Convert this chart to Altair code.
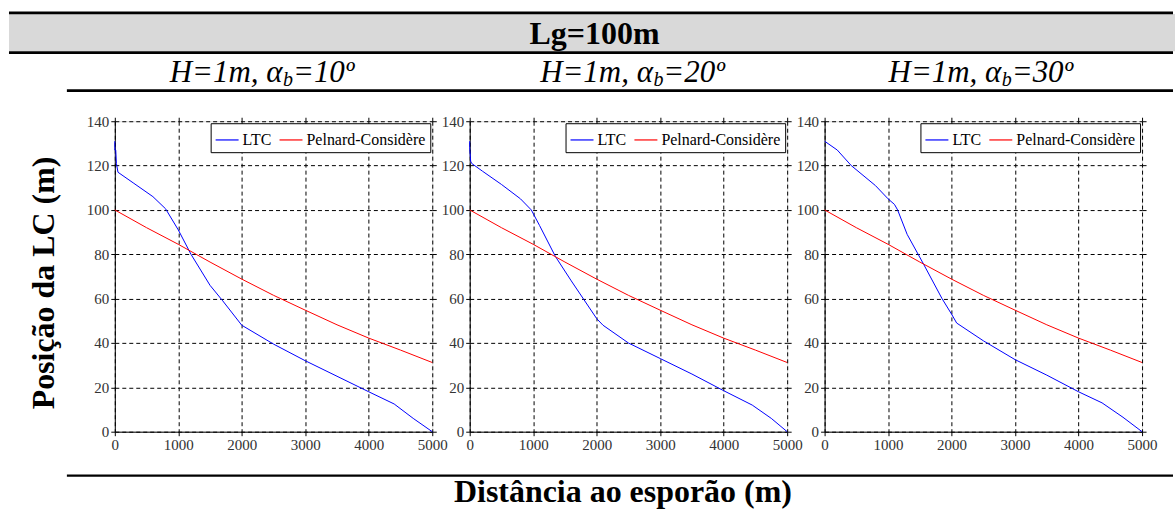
import altair as alt
import pandas as pd

# ---------------- data ----------------
SERIES = ["LTC", "Pelnard-Considère"]
COLORS = ["#0000ff", "#ff0000"]

# Pelnard-Considère solution (same in the three panels)
PC_DIST = [0, 500, 1000, 1500, 2000, 2500, 3000, 3500, 4000, 4500, 5000]
PC_POS = [100, 92, 84.5, 76.5, 68.8, 61.5, 54.8, 48.2, 42.2, 36.8, 31.2]

# LTC, alpha_b = 10
DIST_10 = [0, 0, 15, 25, 50, 300, 600, 800, 1000, 1200, 1500, 1700, 2000, 2500, 3000, 3500, 4000, 4400, 4700, 5000]
LTC_10 = [131, 127, 127, 121, 117, 112, 106, 100.5, 91, 80, 66, 59, 48, 39.5, 32, 25, 18, 12.5, 6, 0]

# LTC, alpha_b = 20
DIST_20 = [0, 0, 15, 30, 200, 500, 800, 970, 1100, 1350, 1600, 1800, 2000, 2100, 2500, 3000, 3500, 4000, 4450, 4750, 5000]
LTC_20 = [131, 128, 122, 121, 117.5, 111.5, 105, 100, 93, 79, 68, 59.5, 51, 48, 40, 33, 26, 18.5, 12, 6, 0]

# LTC, alpha_b = 30
DIST_30 = [0, 200, 420, 800, 1000, 1100, 1150, 1300, 1560, 1850, 2000, 2080, 2500, 3000, 3500, 4000, 4370, 4700, 5000]
LTC_30 = [131, 127, 120, 111, 105, 102.5, 100, 89, 75.5, 60, 53, 49, 41, 32.5, 25.5, 18, 13, 6.5, 0]

X_TICKS = [0, 1000, 2000, 3000, 4000, 5000]
Y_TICKS = [0, 20, 40, 60, 80, 100, 120, 140]

HEADER = "Lg=100m"
SUB_MAIN = "H=1m, α"
SUB_INDEX = "b"
SUB_TAIL = ["=10º", "=20º", "=30º"]
Y_TITLE = "Posição da LC (m)"
X_TITLE = "Distância ao esporão (m)"

# ---------------- layout ----------------
W, H = 318, 311          # plot area of each panel
OX, OY = 114, 120        # canvas position of panel 1 plot area
FONT = "Liberation Serif"


def cx(x):
    return x - OX


def cy(y):
    return y - OY


one = pd.DataFrame({"k": [0]})


def panel_df(dist, ltc):
    rows = []
    for i, (d, v) in enumerate(zip(dist, ltc)):
        rows.append({"dist": d, "pos": v, "series": SERIES[0], "i": i})
    for i, (d, v) in enumerate(zip(PC_DIST, PC_POS)):
        rows.append({"dist": d, "pos": v, "series": SERIES[1], "i": i})
    return pd.DataFrame(rows)


def panel(dist, ltc, extra=None):
    df = panel_df(dist, ltc)
    xs = alt.Scale(domain=[0, 5000], nice=False)
    ys = alt.Scale(domain=[0, 140], nice=False)
    lines = alt.Chart(df).mark_line(strokeWidth=1).encode(
        x=alt.X("dist:Q", scale=xs, axis=alt.Axis(
            values=X_TICKS, title=None, grid=True, gridColor="black", gridDash=[4, 3],
            gridOpacity=1, gridWidth=1, domainColor="black", tickColor="black",
            tickSize=4, labelFont=FONT, labelFontSize=15, labelColor="#333333",
            labelFlush=False, labelPadding=2, format="d")),
        y=alt.Y("pos:Q", scale=ys, axis=alt.Axis(
            values=Y_TICKS, title=None, grid=True, gridColor="black", gridDash=[4, 3],
            gridOpacity=1, gridWidth=1, domainColor="black", tickColor="black",
            tickSize=4, labelFont=FONT, labelFontSize=15, labelColor="#333333",
            labelFlush=False, labelPadding=2, format="d")),
        color=alt.Color("series:N", scale=alt.Scale(domain=SERIES, range=COLORS),
                        legend=alt.Legend(
                            title=None, orient="top-right", direction="horizontal",
                            offset=2, strokeColor="black", fillColor="white", padding=4,
                            symbolType="stroke", symbolSize=529, symbolStrokeWidth=1.2,
                            labelFont=FONT, labelFontSize=16, labelColor="black",
                            labelOffset=3, columnPadding=5, labelLimit=300,
                            cornerRadius=0)),
        order=alt.Order("i:Q"),
    )
    mirror = alt.Chart(df).mark_line(strokeOpacity=0).encode(
        x=alt.X("dist:Q", scale=xs, axis=alt.Axis(
            orient="top", values=X_TICKS, labels=False, grid=False, domain=False,
            tickColor="black", tickSize=4, title=None)),
        y=alt.Y("pos:Q", scale=ys, axis=alt.Axis(
            orient="right", values=Y_TICKS, labels=False, grid=False, domain=False,
            tickColor="black", tickSize=4, title=None)),
        detail="series:N",
        order=alt.Order("i:Q"),
    )
    layers = (extra or []) + [lines, mirror]
    return alt.layer(*layers).resolve_axis(x="independent", y="independent").properties(
        width=W, height=H)


def rule(x1, x2, y, sw):
    return alt.Chart(one).mark_rule(color="black", strokeWidth=sw).encode(
        x=alt.value(cx(x1)), x2=alt.value(cx(x2)), y=alt.value(cy(y)))


def text(t, x, y, size, weight="normal", style="normal", align="center", angle=0):
    kw = dict(text=t, font=FONT, fontSize=size, fontWeight=weight, fontStyle=style,
              align=align, baseline="alphabetic", color="black")
    if angle:
        kw["angle"] = angle
    return alt.Chart(one).mark_text(**kw).encode(x=alt.value(cx(x)), y=alt.value(cy(y)))


deco = [
    # invisible anchor covering the whole canvas
    alt.Chart(one).mark_rect(color="white", opacity=0).encode(
        x=alt.value(cx(0)), x2=alt.value(cx(1176)), y=alt.value(cy(0)), y2=alt.value(cy(511))),
    # grey header band
    alt.Chart(one).mark_rect(color="#d9d9d9").encode(
        x=alt.value(cx(8)), x2=alt.value(cx(1176)), y=alt.value(cy(12.7)), y2=alt.value(cy(50))),
    rule(8, 1174, 11.5, 2.6),
    rule(8, 1174, 51.3, 2.6),
    rule(66, 1174, 89.3, 2.6),
    rule(66, 1174, 475, 2.2),
    text(HEADER, 594.5, 42.5, 32, weight="bold"),
    text(Y_TITLE, 53, 282, 32, weight="bold", angle=270),
    text(X_TITLE, 623, 501.5, 32, weight="bold"),
]
SUB_X = [282, 653, 1002]
for xb, tail in zip(SUB_X, SUB_TAIL):
    deco.append(text(SUB_MAIN, xb, 81, 31, style="italic", align="right"))
    deco.append(text(SUB_INDEX, xb + 0.5, 85, 20, style="italic", align="left"))
    deco.append(text(tail, xb + 10.5, 81, 31, style="italic", align="left"))

p1 = panel(DIST_10, LTC_10, deco)
p2 = panel(DIST_20, LTC_20)
p3 = panel(DIST_30, LTC_30)

chart = alt.hconcat(p1, p2, p3, spacing=37.5, bounds="flush", padding=0).resolve_scale(
    color="independent").resolve_legend(color="independent").configure_view(
    stroke="black", strokeWidth=1).configure(background="white")

chart.save("out.html", embed_options={"renderer": "svg", "actions": False})
